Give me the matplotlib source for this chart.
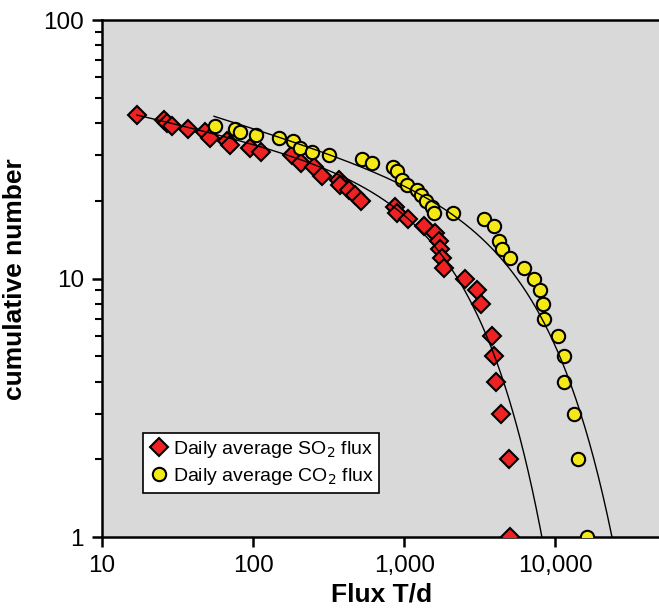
import matplotlib
matplotlib.use("Agg")
import matplotlib.pyplot as plt
import matplotlib.ticker as mticker
import numpy as np

# daily average SO2 flux (T/d) and cumulative number
so2_flux = [17, 25.5, 27, 29, 37, 48, 52, 67, 70, 95, 112, 180, 207, 251, 285,
            367, 377, 428, 474, 516, 871, 900, 1060, 1343, 1604, 1686, 1730,
            1776, 1820, 2535, 3030, 3236, 3810, 3945, 4065, 4390, 4960, 5035]
so2_count = [43, 41, 40, 39, 38, 37, 35, 34, 33, 32, 31, 30, 28, 27, 25,
             24, 23, 22, 21, 20, 19, 18, 17, 16, 15, 14, 13,
             12, 11, 10, 9, 8, 6, 5, 4, 3, 2, 1]

# daily average CO2 flux (T/d) and cumulative number
co2_flux = [56, 76, 82, 105, 147, 183, 205, 245, 315, 525, 611, 841, 894, 966,
            1040, 1220, 1290, 1399, 1525, 1563, 2100, 3350, 3945, 4210, 4440,
            4980, 6230, 7180, 7960, 8290, 8460, 10420, 11350, 11480, 13220,
            14050, 16220]
co2_count = [39, 38, 37, 36, 35, 34, 32, 31, 30, 29, 28, 27, 26, 24,
             23, 22, 21, 20, 19, 18, 18, 17, 16, 14, 13,
             12, 11, 10, 9, 8, 7, 6, 5, 4, 3,
             2, 1]

# tapered power-law fits: N = A * x^-b * exp(-x/xc)
so2_fit = {"A": 62.8, "b": 0.132, "xc": 2760, "xmin": 17}
co2_fit = {"A": 87.2, "b": 0.178, "xc": 8860, "xmin": 55}


def fit_curve(p):
    x = np.geomspace(p["xmin"], 50000, 400)
    return x, p["A"] * x ** (-p["b"]) * np.exp(-x / p["xc"])


plt.rcParams["font.family"] = ["Liberation Sans", "DejaVu Sans"]

fig = plt.figure(figsize=(6.59, 6.16), dpi=100)
ax = fig.add_axes([0.155, 0.128, 0.848, 0.8393])
ax.set_facecolor("#D9D9D9")

ax.plot(so2_flux, so2_count, linestyle="none", marker="D", markersize=9.5,
        markerfacecolor="#EE2222", markeredgecolor="black", markeredgewidth=1.5,
        label="Daily average SO$_2$ flux", zorder=3)
ax.plot(co2_flux, co2_count, linestyle="none", marker="o", markersize=9.6,
        markerfacecolor="#F4E816", markeredgecolor="black", markeredgewidth=1.5,
        label="Daily average CO$_2$ flux", zorder=3)

for p in (so2_fit, co2_fit):
    xs, ys = fit_curve(p)
    ax.plot(xs, ys, color="black", lw=1.0, zorder=4)

ax.set_xscale("log")
ax.set_yscale("log")
ax.set_xlim(10, 50000)
ax.set_ylim(1, 100)

ax.xaxis.set_major_locator(mticker.FixedLocator([10, 100, 1000, 10000]))
ax.xaxis.set_major_formatter(mticker.FuncFormatter(lambda v, pos: f"{v:,.0f}"))
ax.xaxis.set_minor_locator(mticker.NullLocator())
ax.yaxis.set_major_locator(mticker.FixedLocator([1, 10, 100]))
ax.yaxis.set_major_formatter(mticker.FuncFormatter(lambda v, pos: f"{v:.0f}"))
ax.yaxis.set_minor_locator(mticker.LogLocator(base=10, subs=np.arange(2, 10)))
ax.yaxis.set_minor_formatter(mticker.NullFormatter())

ax.tick_params(axis="both", which="major", direction="out", length=7, width=1.8,
               labelsize=17.5, colors="black", pad=6)
ax.tick_params(axis="y", which="minor", direction="out", length=5, width=1.5)

for side in ("left", "bottom", "top"):
    ax.spines[side].set_linewidth(1.8)
ax.spines["right"].set_visible(False)

ax.set_xlabel("Flux T/d", fontsize=19, fontweight="bold", labelpad=4)
ax.set_ylabel("cumulative number", fontsize=19, fontweight="bold", labelpad=12)

leg = ax.legend(loc="lower left", bbox_to_anchor=(0.074, 0.086), borderaxespad=0,
                fontsize=14, fancybox=False, framealpha=1, edgecolor="black",
                handletextpad=0.2, borderpad=0.3, handlelength=1.0,
                labelspacing=0.3)
leg.get_frame().set_linewidth(1.2)

fig.savefig("out.png", dpi=100)
